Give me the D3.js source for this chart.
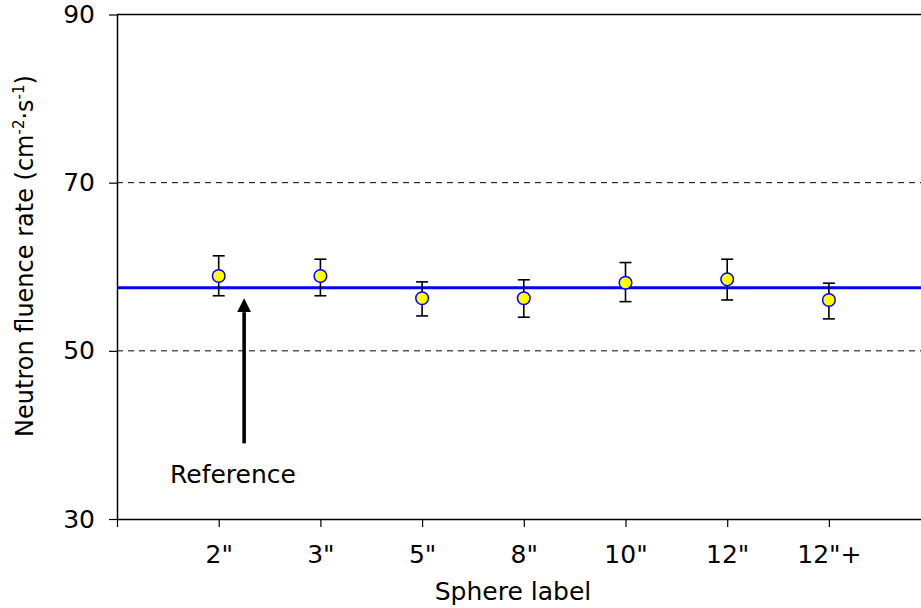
<!DOCTYPE html>
<html>
<head>
<meta charset="utf-8">
<script src="https://cdn.jsdelivr.net/npm/d3@7"></script>
<style>
  body { margin: 0; background: #fff; }
  svg { display: block; font-family: "DejaVu Sans", Verdana, sans-serif; }
</style>
</head>
<body>
<div id="chart"></div>
<script>
// chart data
var sphereLabels = ['2"', '3"', '5"', '8"', '10"', '12"', '12"+'];
var fluenceRate = [58.9, 58.9, 56.25, 56.25, 58.1, 58.5, 56.05];
var errLower = [56.55, 56.55, 54.15, 54.0, 55.85, 56.05, 53.8];
var errUpper = [61.3, 60.9, 58.2, 58.45, 60.5, 60.9, 58.05];
var referenceValue = 57.5;
var yTicks = [30, 50, 70, 90];
var gridValues = [50, 70];

var svgWidth = 921, svgHeight = 608;
var margin = { top: 14.5, left: 117, bottom: 89 };
var plotBottom = svgHeight - margin.bottom;
var unitWidth = 101.7;

var svg = d3.select("#chart")
  .append("svg")
  .attr("width", svgWidth)
  .attr("height", svgHeight);

// x: category index, 0 at the y axis, 8 slots (last one cut by the window)
var xScale = d3.scaleLinear()
  .domain([0, 8])
  .range([margin.left, margin.left + 8 * unitWidth]);

var yScale = d3.scaleLinear()
  .domain([30, 90])
  .range([plotBottom, margin.top]);

// dashed gridlines
svg.append("g").selectAll("line")
  .data(gridValues)
  .enter()
  .append("line")
  .attr("x1", xScale(0))
  .attr("x2", xScale(8))
  .attr("y1", d => yScale(d))
  .attr("y2", d => yScale(d))
  .attr("stroke", "#000")
  .attr("stroke-width", 1)
  .attr("stroke-dasharray", "6,5");

// top border
svg.append("line")
  .attr("x1", xScale(0))
  .attr("x2", xScale(8))
  .attr("y1", yScale(90))
  .attr("y2", yScale(90))
  .attr("stroke", "#000")
  .attr("stroke-width", 1.5);

// axes
var leftAxis = d3.axisLeft(yScale)
  .tickValues(yTicks)
  .tickSize(8)
  .tickSizeOuter(0)
  .tickPadding(14);

var bottomAxis = d3.axisBottom(xScale)
  .tickValues(d3.range(0, 8))
  .tickSize(8)
  .tickSizeOuter(0)
  .tickPadding(18)
  .tickFormat(i => i === 0 ? "" : sphereLabels[i - 1]);

var yAxisG = svg.append("g")
  .attr("transform", `translate(${margin.left},0)`)
  .call(leftAxis);

var xAxisG = svg.append("g")
  .attr("transform", `translate(0,${plotBottom})`)
  .call(bottomAxis);

[yAxisG, xAxisG].forEach(function(g) {
  g.select(".domain").attr("stroke", "#000").attr("stroke-width", 1.5);
  g.selectAll(".tick line").attr("stroke", "#000").attr("stroke-width", 1.2);
  g.selectAll(".tick text")
    .attr("fill", "#000")
    .style("font-size", "25px")
    .style("font-family", "'DejaVu Sans', Verdana, sans-serif");
});

// reference line
svg.append("line")
  .attr("x1", xScale(0))
  .attr("x2", xScale(8))
  .attr("y1", yScale(referenceValue))
  .attr("y2", yScale(referenceValue))
  .attr("stroke", "#0000ff")
  .attr("stroke-width", 3.2);

// error bars
var pts = fluenceRate.map((v, i) => ({ i: i + 1, v: v, lo: errLower[i], hi: errUpper[i] }));
var errG = svg.append("g").attr("stroke", "#000").attr("stroke-width", 1.6);

errG.selectAll(".stem")
  .data(pts)
  .enter()
  .append("line")
  .attr("x1", d => xScale(d.i))
  .attr("x2", d => xScale(d.i))
  .attr("y1", d => yScale(d.lo))
  .attr("y2", d => yScale(d.hi));

errG.selectAll(".capHi")
  .data(pts)
  .enter()
  .append("line")
  .attr("x1", d => xScale(d.i) - 6)
  .attr("x2", d => xScale(d.i) + 6)
  .attr("y1", d => yScale(d.hi))
  .attr("y2", d => yScale(d.hi));

errG.selectAll(".capLo")
  .data(pts)
  .enter()
  .append("line")
  .attr("x1", d => xScale(d.i) - 6)
  .attr("x2", d => xScale(d.i) + 6)
  .attr("y1", d => yScale(d.lo))
  .attr("y2", d => yScale(d.lo));

// points
svg.append("g").selectAll("circle")
  .data(pts)
  .enter()
  .append("circle")
  .attr("cx", d => xScale(d.i))
  .attr("cy", d => yScale(d.v))
  .attr("r", 6.3)
  .attr("fill", "#ffff00")
  .attr("stroke", "#0000ff")
  .attr("stroke-width", 1.5);

// arrow + "Reference" note
var arrowX = xScale(1.25);
svg.append("defs").append("marker")
  .attr("id", "head")
  .attr("viewBox", "0 0 14 14")
  .attr("refX", 0)
  .attr("refY", 7)
  .attr("markerWidth", 14)
  .attr("markerHeight", 14)
  .attr("markerUnits", "userSpaceOnUse")
  .attr("orient", "auto")
  .append("path")
  .attr("d", "M0,0 L14,7 L0,14 Z")
  .attr("fill", "#000");

svg.append("line")
  .attr("x1", arrowX)
  .attr("x2", arrowX)
  .attr("y1", yScale(39))
  .attr("y2", yScale(54.6))
  .attr("stroke", "#000")
  .attr("stroke-width", 3.6)
  .attr("marker-end", "url(#head)");

svg.append("text")
  .attr("x", 233)
  .attr("y", 483)
  .attr("text-anchor", "middle")
  .style("font-size", "25px")
  .text("Reference");

// axis titles
svg.append("text")
  .attr("x", 513)
  .attr("y", 600)
  .attr("text-anchor", "middle")
  .style("font-size", "25px")
  .text("Sphere label");

var yTitle = svg.append("text")
  .attr("transform", "translate(33,256) rotate(-90)")
  .attr("text-anchor", "middle")
  .style("font-size", "24px");
yTitle.append("tspan").text("Neutron fluence rate (cm");
yTitle.append("tspan").attr("baseline-shift", "super").style("font-size", "15px").text("-2");
yTitle.append("tspan").text("·s");
yTitle.append("tspan").attr("baseline-shift", "super").style("font-size", "15px").text("-1");
yTitle.append("tspan").text(")");
</script>
</body>
</html>
